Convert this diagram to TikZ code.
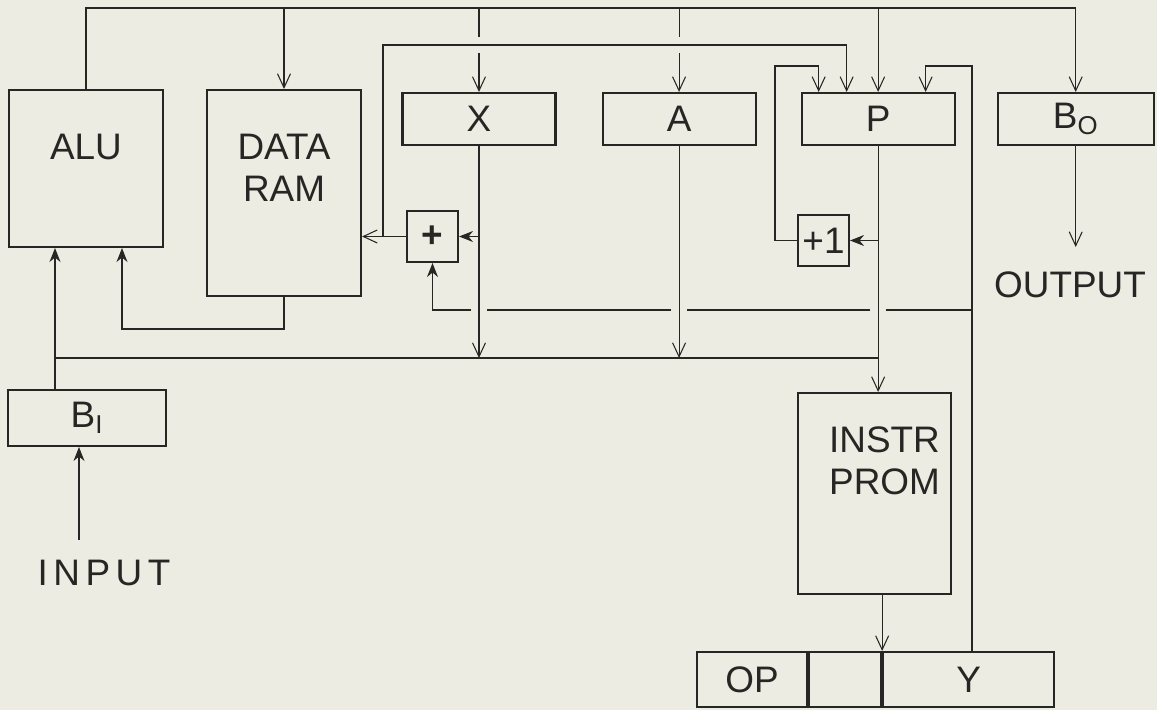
\documentclass[tikz,border=0pt]{standalone}
\usepackage{fontspec}
\setmainfont{Liberation Sans}
\usetikzlibrary{arrows.meta,positioning}

\definecolor{paper}{RGB}{236,236,226}
\definecolor{ink}{RGB}{38,38,36}

\begin{document}
\begin{tikzpicture}[
  x=0.02cm, y=-0.02cm,
  font=\fontsize{21}{24}\selectfont,
  text=ink,
  box/.style={
    draw=ink,
    line width=1.2pt,
    inner sep=0pt,
    align=center
  },
  reg/.style={box, minimum width=3.06cm, minimum height=1.04cm},
  unit/.style={box, minimum size=1.02cm},
  field/.style={box, minimum height=1.1cm},
  title/.style={anchor=north, inner sep=0pt, align=center},
  wire/.style={draw=ink, line width=0.6pt},
  arrow/.style={wire, -{Straight Barb[length=2.8mm,width=2.6mm]}},
  arrowin/.style={wire, -{Stealth[length=2.8mm,width=2.2mm]}},
  hop/.style={shorten #1=0.16cm}
]
\fill[paper] (0,0) rectangle (1157,710);
\useasboundingbox (0,0) rectangle (1157,710);

% blocks
\node[box, minimum width=3.08cm, minimum height=3.14cm,
  label={[title, yshift=-0.9cm]north:ALU}] (alu) at (86,168.5) {};
\node[box, minimum width=3.08cm, minimum height=4.12cm,
  label={[title, yshift=-0.9cm]north:DATA\\RAM}] (ram) at (284,193) {};
\node[reg] (xreg) at (479,119) {X};
\node[reg, right=0.9cm of xreg] (areg) {A};
\node[reg, right=0.88cm of areg] (preg) {P};
\node[reg, minimum width=3.12cm, right=0.82cm of preg] (boreg) {B\textsubscript{O}};
\node[reg, minimum width=3.16cm, minimum height=1.12cm] (bireg) at (87,418) {B\textsubscript{I}};
\node[box, minimum width=3.06cm, minimum height=4.02cm,
  label={[title, xshift=0.2cm, yshift=-0.68cm]north:INSTR\\PROM}] (prom) at (874.5,493.5) {};
\node[unit] (adder) at (432.5,236.5) {\textbf{+}};
\node[unit] (inc) at (823.5,240.5) {+1};

% instruction register
\node[field, minimum width=2.2cm] (op) at (752,679.5) {OP};
\node[field, minimum width=1.44cm, right=0pt of op] (mid) {};
\node[field, minimum width=3.42cm, right=0pt of mid] (yfld) {Y};

% texts
\node (input) at (104,573) {\addfontfeature{LetterSpace=15}INPUT};
\node (output) at (1070,285) {OUTPUT};

% bus points
\coordinate (tb) at (0,8);
\coordinate (sb) at (0,45);
\coordinate (sbl) at (383,45);
\coordinate (lp) at (775,66);
\coordinate (yr) at (972,66);
\coordinate (yl) at (972,310);
\coordinate (rl) at (122,329);
\coordinate (dbus) at (0,358);
\coordinate (ain) at (55,358);
\coordinate (intail) at (79,540);
\coordinate (outhead) at (0,247);

% ALU result bus
\draw[arrow] (alu.north) |- (tb -| boreg.north) -- (boreg.north);
\foreach \n in {ram,preg}
  \draw[arrow] (tb -| \n.north) -- (\n.north);
\foreach \n in {xreg,areg} {
  \draw[wire, hop=>] (tb -| \n.north) -- (sb -| \n.north);
  \draw[arrow, hop=<] (sb -| \n.north) -- (\n.north);
}

% address adder
\draw[arrow] (adder.west) -- (adder.west -| ram.east);
\draw[arrow] (adder.west -| sbl) -- (sbl) -| ([xshift=-0.63cm]preg.north);
\draw[arrowin] (adder.east -| xreg.south) -- (adder.east);

% program counter loop
\draw[arrow] (inc.west) -| (lp) -| ([xshift=-1.19cm]preg.north);
\draw[arrowin] (inc.east -| preg.south) -- (inc.east);
\draw[arrow] (yr |- yfld.north) -- (yr) -| ([xshift=0.95cm]preg.north);

% Y field to adder
\draw[wire, hop=>] (yl) -- (yl -| preg.south);
\foreach \a/\b in {preg/areg,areg/xreg}
  \draw[wire, hop=<, hop=>] (yl -| \a.south) -- (yl -| \b.south);
\draw[arrowin, hop=<] (yl -| xreg.south) -| (adder.south);

% data bus into ALU
\draw[arrow] (xreg.south) -- (xreg.south |- dbus);
\draw[arrow] (areg.south) -- (areg.south |- dbus);
\draw[arrow] (preg.south) -- (preg.south |- prom.north);
\draw[wire] (dbus -| preg.south) -- (ain);
\draw[arrowin] (bireg.north -| ain) -- (alu.south -| ain);
\draw[arrowin] (ram.south) |- (rl) -- (rl |- alu.south);

% instruction fetch
\draw[arrow] (prom.south -| mid.north east) -- (mid.north east);

% input and output
\draw[arrowin] (intail) -- (intail |- bireg.south);
\draw[arrow] (boreg.south) -- (boreg.south |- outhead);

\end{tikzpicture}
\end{document}
